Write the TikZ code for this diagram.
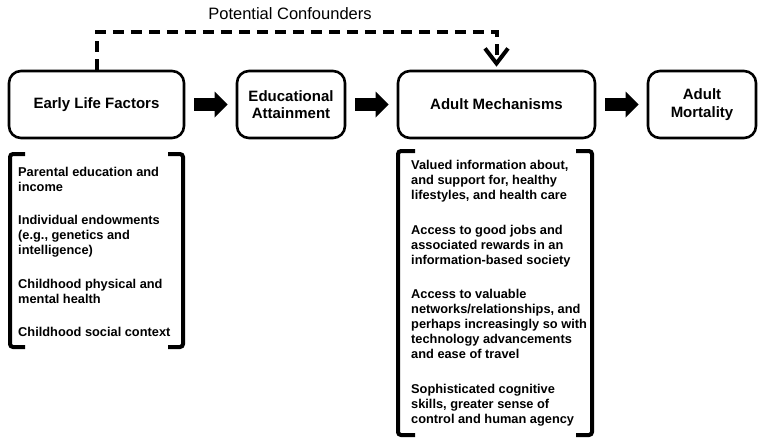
\documentclass[tikz,border=0pt]{standalone}
\usepackage{fontspec}
\setmainfont{Liberation Sans}
\usetikzlibrary{arrows.meta}
\begin{document}
\begin{tikzpicture}[x=1pt,y=-1pt,
  box/.style={draw, line width=2.6pt, rounded corners=12pt, minimum height=67pt, align=center, font=\fontsize{15}{17.5}\selectfont\bfseries, inner sep=0pt},
  blockarrow/.style={line width=13pt, -{Triangle[length=13pt,width=26pt,line width=0pt]}, shorten <=9pt, shorten >=8pt},
  confound/.style={line width=4pt, dash pattern=on 11pt off 7pt, -{Straight Barb[length=15pt,width=23pt]}, shorten >=3pt},
  brack/.style={line width=4pt, rounded corners=3pt},
  item/.style={anchor=north west, align=left, inner sep=0pt, font=\fontsize{12.8}{15}\selectfont\bfseries}
]
\useasboundingbox (0,0) rectangle (764,445);

\node[box, minimum width=175pt] (elf) at (96.5,104.5) {Early Life Factors};
\node[box, minimum width=108pt] (edu) at (291,104.5) {Educational\\Attainment};
\node[box, minimum width=197pt] (am) at (496.5,104.5) {Adult Mechanisms};
\node[box, minimum width=108pt] (mort) at (702,104.5) {Adult\\Mortality};

\draw[blockarrow] (elf) -- (edu);
\draw[blockarrow] (edu) -- (am);
\draw[blockarrow] (am) -- (mort);

\coordinate (top) at (0,32);
\draw[confound] (elf.north) -- (elf.north |- top) -| (am.north);
\node[font=\fontsize{16.5}{19}\selectfont, inner sep=0pt] (pc) at (290,14) {Potential Confounders};

\draw[brack] (25,154) -- (10,154) -- (10,347) -- (25,347);
\draw[brack] (168,154) -- (183,154) -- (183,347) -- (168,347);
\node[item] (l1) at (18,167) {Parental education and\\income};
\node[item] (l2) at (18,215) {Individual endowments\\(e.g., genetics and\\intelligence)};
\node[item] (l3) at (18,279.5) {Childhood physical and\\mental health};
\node[item] (l4) at (18,327.5) {Childhood social context};

\draw[brack] (415,151) -- (398,151) -- (398,435) -- (415,435);
\draw[brack] (576,151) -- (592,151) -- (592,435) -- (576,435);
\node[item] (r1) at (411,160) {Valued information about,\\and support for, healthy\\lifestyles, and health care};
\node[item] (r2) at (411,225) {Access to good jobs and\\associated rewards in an\\information-based society};
\node[item] (r3) at (411,289.5) {Access to valuable\\networks/relationships, and\\perhaps increasingly so with\\technology advancements\\and ease of travel};
\node[item] (r4) at (411,384.5) {Sophisticated cognitive\\skills, greater sense of\\control and human agency};
\end{tikzpicture}
\end{document}
